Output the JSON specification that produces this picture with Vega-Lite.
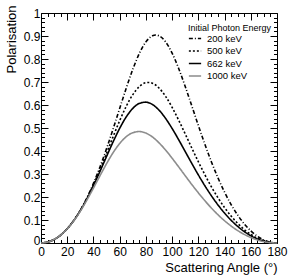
{
  "$schema": "https://vega.github.io/schema/vega-lite/v6.json",
  "width": 236,
  "height": 230,
  "autosize": "none",
  "padding": {"left": 41, "top": 13, "right": 14, "bottom": 37},
  "background": "white",
  "config": {
    "view": {"stroke": "black", "strokeWidth": 1},
    "font": "Liberation Sans",
    "axis": {
      "grid": false,
      "domain": false,
      "tickColor": "black",
      "tickWidth": 1,
      "labelFont": "Liberation Sans",
      "labelFontSize": 12,
      "labelColor": "black",
      "labelOverlap": false,
      "labelFlush": false,
      "titleFont": "Liberation Sans",
      "titleFontSize": 13,
      "titleFontWeight": "normal",
      "titleColor": "black"
    },
    "legend": {
      "labelFont": "Liberation Sans",
      "titleFont": "Liberation Sans"
    }
  },
  "data": {"values": [
    {"energy":"200 keV","angle":0,"pol":0},{"energy":"200 keV","angle":5,"pol":0.0038},{"energy":"200 keV","angle":10,"pol":0.0153},{"energy":"200 keV","angle":15,"pol":0.0347},{"energy":"200 keV","angle":20,"pol":0.0621},{"energy":"200 keV","angle":25,"pol":0.0980},{"energy":"200 keV","angle":30,"pol":0.1426},{"energy":"200 keV","angle":35,"pol":0.1963},{"energy":"200 keV","angle":40,"pol":0.2591},{"energy":"200 keV","angle":45,"pol":0.3307},{"energy":"200 keV","angle":50,"pol":0.4103},{"energy":"200 keV","angle":55,"pol":0.4960},{"energy":"200 keV","angle":60,"pol":0.5850},{"energy":"200 keV","angle":65,"pol":0.6731},{"energy":"200 keV","angle":70,"pol":0.7549},{"energy":"200 keV","angle":75,"pol":0.8241},{"energy":"200 keV","angle":80,"pol":0.8744},{"energy":"200 keV","angle":85,"pol":0.9008},{"energy":"200 keV","angle":87.5,"pol":0.9042},{"energy":"200 keV","angle":90,"pol":0.9008},{"energy":"200 keV","angle":95,"pol":0.8747},{"energy":"200 keV","angle":100,"pol":0.8256},{"energy":"200 keV","angle":105,"pol":0.7588},{"energy":"200 keV","angle":110,"pol":0.6804},{"energy":"200 keV","angle":115,"pol":0.5962},{"energy":"200 keV","angle":120,"pol":0.5112},{"energy":"200 keV","angle":125,"pol":0.4291},{"energy":"200 keV","angle":130,"pol":0.3525},{"energy":"200 keV","angle":135,"pol":0.2829},{"energy":"200 keV","angle":140,"pol":0.2210},{"energy":"200 keV","angle":145,"pol":0.1672},{"energy":"200 keV","angle":150,"pol":0.1215},{"energy":"200 keV","angle":155,"pol":0.0835},{"energy":"200 keV","angle":160,"pol":0.0529},{"energy":"200 keV","angle":165,"pol":0.0295},{"energy":"200 keV","angle":170,"pol":0.0131},{"energy":"200 keV","angle":175,"pol":0.0033},{"energy":"200 keV","angle":180,"pol":0},
    {"energy":"500 keV","angle":0,"pol":0},{"energy":"500 keV","angle":5,"pol":0.0038},{"energy":"500 keV","angle":10,"pol":0.0153},{"energy":"500 keV","angle":15,"pol":0.0346},{"energy":"500 keV","angle":20,"pol":0.0620},{"energy":"500 keV","angle":25,"pol":0.0976},{"energy":"500 keV","angle":30,"pol":0.1416},{"energy":"500 keV","angle":35,"pol":0.1938},{"energy":"500 keV","angle":40,"pol":0.2536},{"energy":"500 keV","angle":45,"pol":0.3197},{"energy":"500 keV","angle":50,"pol":0.3903},{"energy":"500 keV","angle":55,"pol":0.4622},{"energy":"500 keV","angle":60,"pol":0.5317},{"energy":"500 keV","angle":65,"pol":0.5941},{"energy":"500 keV","angle":70,"pol":0.6449},{"energy":"500 keV","angle":75,"pol":0.6801},{"energy":"500 keV","angle":80,"pol":0.6969},{"energy":"500 keV","angle":82.5,"pol":0.6980},{"energy":"500 keV","angle":85,"pol":0.6945},{"energy":"500 keV","angle":90,"pol":0.6739},{"energy":"500 keV","angle":95,"pol":0.6378},{"energy":"500 keV","angle":100,"pol":0.5899},{"energy":"500 keV","angle":105,"pol":0.5341},{"energy":"500 keV","angle":110,"pol":0.4741},{"energy":"500 keV","angle":115,"pol":0.4130},{"energy":"500 keV","angle":120,"pol":0.3533},{"energy":"500 keV","angle":125,"pol":0.2966},{"energy":"500 keV","angle":130,"pol":0.2441},{"energy":"500 keV","angle":135,"pol":0.1965},{"energy":"500 keV","angle":140,"pol":0.1540},{"energy":"500 keV","angle":145,"pol":0.1170},{"energy":"500 keV","angle":150,"pol":0.0853},{"energy":"500 keV","angle":155,"pol":0.0588},{"energy":"500 keV","angle":160,"pol":0.0374},{"energy":"500 keV","angle":165,"pol":0.0209},{"energy":"500 keV","angle":170,"pol":0.0093},{"energy":"500 keV","angle":175,"pol":0.0023},{"energy":"500 keV","angle":180,"pol":0},
    {"energy":"662 keV","angle":0,"pol":0},{"energy":"662 keV","angle":5,"pol":0.0038},{"energy":"662 keV","angle":10,"pol":0.0153},{"energy":"662 keV","angle":15,"pol":0.0346},{"energy":"662 keV","angle":20,"pol":0.0619},{"energy":"662 keV","angle":25,"pol":0.0974},{"energy":"662 keV","angle":30,"pol":0.1408},{"energy":"662 keV","angle":35,"pol":0.1918},{"energy":"662 keV","angle":40,"pol":0.2493},{"energy":"662 keV","angle":45,"pol":0.3116},{"energy":"662 keV","angle":50,"pol":0.3763},{"energy":"662 keV","angle":55,"pol":0.4398},{"energy":"662 keV","angle":60,"pol":0.4985},{"energy":"662 keV","angle":65,"pol":0.5481},{"energy":"662 keV","angle":70,"pol":0.5851},{"energy":"662 keV","angle":75,"pol":0.6069},{"energy":"662 keV","angle":80,"pol":0.6124},{"energy":"662 keV","angle":85,"pol":0.6021},{"energy":"662 keV","angle":90,"pol":0.5776},{"energy":"662 keV","angle":95,"pol":0.5419},{"energy":"662 keV","angle":100,"pol":0.4980},{"energy":"662 keV","angle":105,"pol":0.4490},{"energy":"662 keV","angle":110,"pol":0.3976},{"energy":"662 keV","angle":115,"pol":0.3461},{"energy":"662 keV","angle":120,"pol":0.2961},{"energy":"662 keV","angle":125,"pol":0.2488},{"energy":"662 keV","angle":130,"pol":0.2051},{"energy":"662 keV","angle":135,"pol":0.1654},{"energy":"662 keV","angle":140,"pol":0.1300},{"energy":"662 keV","angle":145,"pol":0.0989},{"energy":"662 keV","angle":150,"pol":0.0723},{"energy":"662 keV","angle":155,"pol":0.0499},{"energy":"662 keV","angle":160,"pol":0.0318},{"energy":"662 keV","angle":165,"pol":0.0178},{"energy":"662 keV","angle":170,"pol":0.0079},{"energy":"662 keV","angle":175,"pol":0.0020},{"energy":"662 keV","angle":180,"pol":0},
    {"energy":"1000 keV","angle":0,"pol":0},{"energy":"1000 keV","angle":5,"pol":0.0038},{"energy":"1000 keV","angle":10,"pol":0.0153},{"energy":"1000 keV","angle":15,"pol":0.0346},{"energy":"1000 keV","angle":20,"pol":0.0617},{"energy":"1000 keV","angle":25,"pol":0.0966},{"energy":"1000 keV","angle":30,"pol":0.1385},{"energy":"1000 keV","angle":35,"pol":0.1866},{"energy":"1000 keV","angle":40,"pol":0.2387},{"energy":"1000 keV","angle":45,"pol":0.2926},{"energy":"1000 keV","angle":50,"pol":0.3450},{"energy":"1000 keV","angle":55,"pol":0.3927},{"energy":"1000 keV","angle":60,"pol":0.4326},{"energy":"1000 keV","angle":65,"pol":0.4620},{"energy":"1000 keV","angle":70,"pol":0.4795},{"energy":"1000 keV","angle":75,"pol":0.4846},{"energy":"1000 keV","angle":80,"pol":0.4779},{"energy":"1000 keV","angle":85,"pol":0.4610},{"energy":"1000 keV","angle":90,"pol":0.4356},{"energy":"1000 keV","angle":95,"pol":0.4043},{"energy":"1000 keV","angle":100,"pol":0.3687},{"energy":"1000 keV","angle":105,"pol":0.3310},{"energy":"1000 keV","angle":110,"pol":0.2925},{"energy":"1000 keV","angle":115,"pol":0.2545},{"energy":"1000 keV","angle":120,"pol":0.2181},{"energy":"1000 keV","angle":125,"pol":0.1837},{"energy":"1000 keV","angle":130,"pol":0.1518},{"energy":"1000 keV","angle":135,"pol":0.1228},{"energy":"1000 keV","angle":140,"pol":0.0968},{"energy":"1000 keV","angle":145,"pol":0.0739},{"energy":"1000 keV","angle":150,"pol":0.0542},{"energy":"1000 keV","angle":155,"pol":0.0375},{"energy":"1000 keV","angle":160,"pol":0.0239},{"energy":"1000 keV","angle":165,"pol":0.0134},{"energy":"1000 keV","angle":170,"pol":0.0060},{"energy":"1000 keV","angle":175,"pol":0.0015},{"energy":"1000 keV","angle":180,"pol":0}
  ]},
  "layer": [
    {
      "mark": {"type": "line", "interpolate": "monotone"},
      "encoding": {
        "x": {
          "field": "angle", "type": "quantitative",
          "scale": {"domain": [0, 180], "nice": false, "zero": false},
          "axis": {
            "orient": "bottom",
            "values": [0,5,10,15,20,25,30,35,40,45,50,55,60,65,70,75,80,85,90,95,100,105,110,115,120,125,130,135,140,145,150,155,160,165,170,175,180],
            "tickSize": {"condition": {"test": "datum.value % 20 === 0", "value": -7}, "value": -3.5},
            "labelExpr": "datum.value % 20 === 0 ? toString(datum.value) : ''",
            "labelPadding": 10,
            "title": "Scattering Angle (°)",
            "titleAnchor": "end",
            "titleAlign": "right",
            "titleBaseline": "alphabetic",
            "titleX": 236,
            "titleY": 28.5
          }
        },
        "y": {
          "field": "pol", "type": "quantitative",
          "scale": {"domain": [0, 1], "nice": false},
          "axis": {
            "orient": "left",
            "values": [0,0.02,0.04,0.06,0.08,0.1,0.12,0.14,0.16,0.18,0.2,0.22,0.24,0.26,0.28,0.3,0.32,0.34,0.36,0.38,0.4,0.42,0.44,0.46,0.48,0.5,0.52,0.54,0.56,0.58,0.6,0.62,0.64,0.66,0.68,0.7,0.72,0.74,0.76,0.78,0.8,0.82,0.84,0.86,0.88,0.9,0.92,0.94,0.96,0.98,1],
            "tickSize": {"condition": {"test": "abs(datum.value*10 - round(datum.value*10)) < 0.000001", "value": -7}, "value": -3.5},
            "labelExpr": "abs(datum.value*10 - round(datum.value*10)) < 0.000001 ? toString(round(datum.value*10)/10) : ''",
            "labelOffset": {"condition": {"test": "datum.value === 0", "value": -3}, "value": 0},
            "labelPadding": 8,
            "title": "Polarisation",
            "titleAnchor": "end",
            "titleAngle": -90,
            "titleAlign": "right",
            "titleBaseline": "bottom",
            "titleX": -23,
            "titleY": -8
          }
        },
        "color": {
          "field": "energy", "type": "nominal",
          "scale": {"domain": ["200 keV","500 keV","662 keV","1000 keV"], "range": ["#000000","#000000","#000000","#8c8c8c"]},
          "legend": {
            "title": "Initial Photon Energy",
            "orient": "none",
            "legendX": 147,
            "legendY": 10.5,
            "titleFontSize": 9,
            "titleFontWeight": "normal",
            "titleColor": "black",
            "titlePadding": -1,
            "titleLimit": 300,
            "labelFontSize": 9.5,
            "labelColor": "black",
            "symbolType": "stroke",
            "symbolSize": 150,
            "rowPadding": 0.5,
            "labelOffset": 5,
            "padding": 0
          }
        },
        "strokeDash": {
          "field": "energy", "type": "nominal",
          "scale": {"domain": ["200 keV","500 keV","662 keV","1000 keV"], "range": [[4,2,1,2],[2,2],[1,0],[1,0]]},
          "legend": {"title": "Initial Photon Energy"}
        },
        "strokeWidth": {
          "field": "energy", "type": "nominal",
          "scale": {"domain": ["200 keV","500 keV","662 keV","1000 keV"], "range": [1.6,1.6,2.3,1]},
          "legend": {"title": "Initial Photon Energy"}
        }
      }
    },
    {
      "mark": {"type": "line", "opacity": 0},
      "encoding": {
        "detail": {"field": "energy", "type": "nominal"},
        "x": {
          "field": "angle", "type": "quantitative",
          "axis": {
            "orient": "top",
            "values": [0,5,10,15,20,25,30,35,40,45,50,55,60,65,70,75,80,85,90,95,100,105,110,115,120,125,130,135,140,145,150,155,160,165,170,175,180],
            "tickSize": {"condition": {"test": "datum.value % 20 === 0", "value": -7}, "value": -3.5},
            "labels": false,
            "title": null
          }
        },
        "y": {
          "field": "pol", "type": "quantitative",
          "axis": {
            "orient": "right",
            "values": [0,0.02,0.04,0.06,0.08,0.1,0.12,0.14,0.16,0.18,0.2,0.22,0.24,0.26,0.28,0.3,0.32,0.34,0.36,0.38,0.4,0.42,0.44,0.46,0.48,0.5,0.52,0.54,0.56,0.58,0.6,0.62,0.64,0.66,0.68,0.7,0.72,0.74,0.76,0.78,0.8,0.82,0.84,0.86,0.88,0.9,0.92,0.94,0.96,0.98,1],
            "tickSize": {"condition": {"test": "abs(datum.value*10 - round(datum.value*10)) < 0.000001", "value": -7}, "value": -3.5},
            "labels": false,
            "title": null
          }
        }
      }
    }
  ],
  "resolve": {"axis": {"x": "independent", "y": "independent"}}
}
